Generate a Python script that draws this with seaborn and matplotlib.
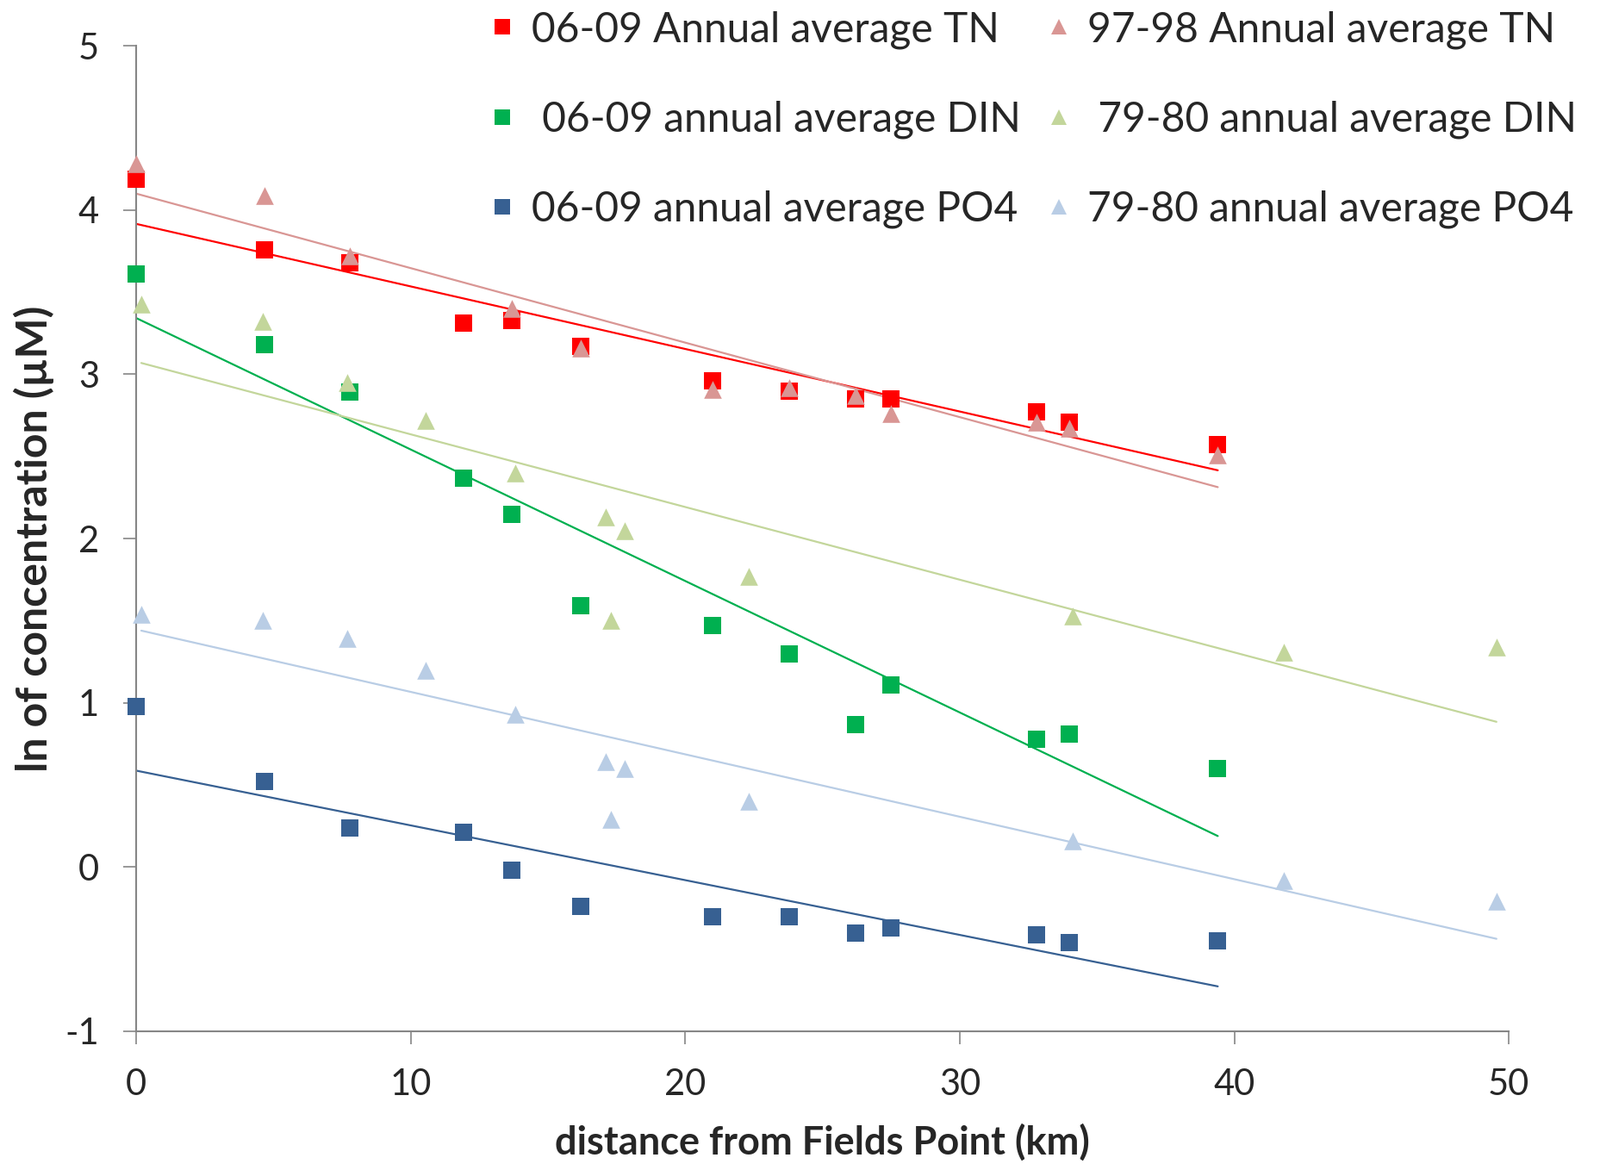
import matplotlib
matplotlib.use('Agg')
import matplotlib.pyplot as plt
import numpy as np
import pandas as pd
import seaborn as sns
from matplotlib.lines import Line2D

# distances (km) for the 06-09 stations and the older surveys
x_0609 = [0, 4.68, 7.77, 11.93, 13.68, 16.2, 21.0, 23.8, 26.2, 27.5, 32.8, 34.0, 39.4]
x_9798 = [0, 4.68, 7.77, 13.68, 16.2, 21.0, 23.8, 26.2, 27.5, 32.8, 34.0, 39.4]
x_7980 = [0.19, 4.6, 7.7, 10.56, 13.8, 17.1, 17.3, 17.8, 22.3, 34.1, 41.8, 49.55]

# ln of concentration (uM)
tn_0609 = [4.19, 3.76, 3.68, 3.31, 3.33, 3.17, 2.96, 2.90, 2.85, 2.85, 2.77, 2.71, 2.57]
tn_9798 = [4.28, 4.09, 3.72, 3.40, 3.16, 2.91, 2.92, 2.87, 2.76, 2.71, 2.67, 2.51]
din_0609 = [3.61, 3.18, 2.89, 2.37, 2.15, 1.59, 1.47, 1.30, 0.87, 1.11, 0.78, 0.81, 0.60]
din_7980 = [3.43, 3.32, 2.95, 2.72, 2.40, 2.13, 1.50, 2.05, 1.77, 1.53, 1.31, 1.34]
po4_0609 = [0.98, 0.52, 0.24, 0.21, -0.02, -0.24, -0.30, -0.30, -0.40, -0.37, -0.41, -0.46, -0.45]
po4_7980 = [1.54, 1.50, 1.39, 1.20, 0.93, 0.64, 0.29, 0.60, 0.40, 0.16, -0.08, -0.21]

labels = ['06-09 Annual average TN', ' 06-09 annual average DIN', '06-09 annual average PO4',
          '97-98 Annual average TN', ' 79-80 annual average DIN', '79-80 annual average PO4']

sns.set_style('white')
plt.rcParams['font.family'] = ['Lato', 'DejaVu Sans']
plt.rcParams['axes.unicode_minus'] = False

# (x, y, marker, colour) in the excel series order
series = [
    (x_0609, tn_0609, 's', '#FF0000'),
    (x_9798, tn_9798, '^', '#D99694'),
    (x_0609, din_0609, 's', '#00B050'),
    (x_7980, din_7980, '^', '#C3D69B'),
    (x_0609, po4_0609, 's', '#376092'),
    (x_7980, po4_7980, '^', '#B9CDE5'),
]

fig = plt.figure(figsize=(18.58, 13.51), dpi=100)
ax = fig.add_axes([0.085, 0.114, 0.8575, 0.8466])

for xs, ys, mk, col in series:
    df = pd.DataFrame({'x': xs, 'y': ys})
    sns.regplot(data=df, x='x', y='y', ax=ax, scatter=False, ci=None, truncate=True,
                line_kws=dict(color=col, lw=1.6, zorder=2))
    sns.scatterplot(data=df, x='x', y='y', ax=ax, marker=mk, color=col,
                    s=200 if mk == 's' else 220, linewidth=0, zorder=3, clip_on=False)

ax.set_xlim(0, 50)
ax.set_ylim(-1, 5)
ax.set_xticks(range(0, 51, 10))
ax.set_yticks(range(-1, 6))
for s in ['top', 'right']:
    ax.spines[s].set_visible(False)
for s in ['left', 'bottom']:
    ax.spines[s].set_color('#868686')
    ax.spines[s].set_linewidth(1.5)
ax.tick_params(axis='both', which='major', direction='out', length=11, width=1.2,
               color='#868686', labelsize=30, pad=20, left=True, bottom=True)
ax.set_xlabel('distance from Fields Point (km)', fontsize=32.5, fontweight='bold')
ax.set_ylabel('ln of concentration (\u00b5M)', fontsize=36, fontweight='bold')
ax.xaxis.set_label_coords(0.5, -0.094)
ax.yaxis.set_label_coords(-0.0596, 0.5)

order = [0, 2, 4, 1, 3, 5]
handles = [Line2D([], [], ls='none', marker=series[i][2], color=series[i][3],
                  markersize=12.5, markeredgewidth=0) for i in order]
fig.legend(handles, labels, ncol=2, loc='upper left', bbox_to_anchor=(0.283, 1.023),
           frameon=False, fontsize=34.5, handlelength=0.6, handletextpad=0.4,
           labelspacing=1.25, columnspacing=0.62)

fig.savefig('out.png', dpi=100)
